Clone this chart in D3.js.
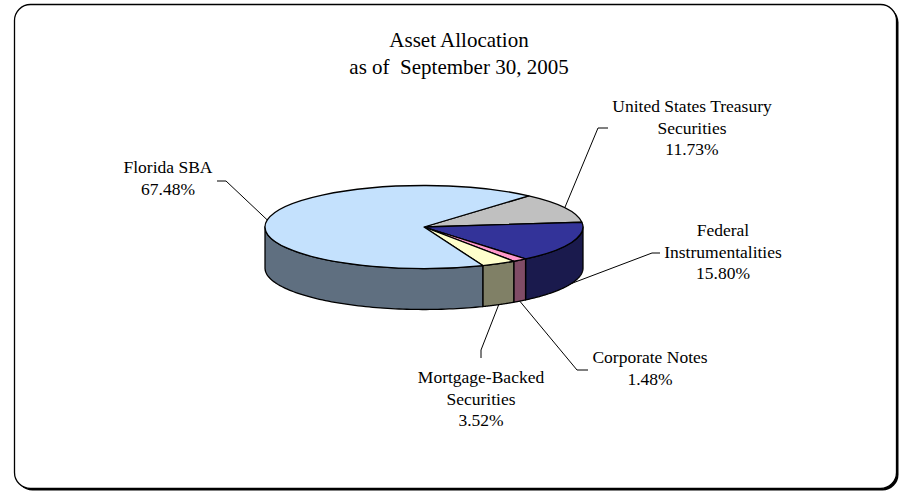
<!DOCTYPE html>
<html>
<head>
<meta charset="utf-8">
<script src="https://cdn.jsdelivr.net/npm/d3@7"></script>
<style>
  body { margin: 0; background: #fff; }
  svg { display: block; }
  text { font-family: "Liberation Serif", "Times New Roman", serif; fill: #000; }
</style>
</head>
<body>
<div id="chart"></div>
<script>
// data, in drawing order (clockwise from the top-right edge of Florida SBA)
const categories = ['United States Treasury Securities', 'Federal Instrumentalities', 'Corporate Notes', 'Mortgage-Backed Securities', 'Florida SBA'];
const values = [11.73, 15.80, 1.48, 3.52, 67.48];
const labelLines = [['United States Treasury', 'Securities'], ['Federal', 'Instrumentalities'], ['Corporate Notes'], ['Mortgage-Backed', 'Securities'], ['Florida SBA']];
const topColors = ['#C0C0C0', '#333399', '#FF99CC', '#FFFFCC', '#C4E1FD'];
const sideColors = ['#606060', '#1A1A4D', '#804C66', '#808066', '#5F6F80'];
const titleLines = ['Asset Allocation', 'as of  September 30, 2005'];

// layout
const width = 905, height = 492;
const cx = 424, cy = 227, rx = 159, ry = 41.5, depth = 41;
const startAngle = 41.2 * Math.PI / 180;
const labelPos = [
  { x: 692, y: 112, elbow: [[608, 128], [598, 128]] },
  { x: 723, y: 236, elbow: [[660, 253], [652, 253]] },
  { x: 650, y: 363, elbow: [[588, 370], [577, 370]] },
  { x: 481, y: 383, elbow: [[481, 358], [481, 350]] },
  { x: 168, y: 173, elbow: [[217, 181], [226, 181]] },
];

const svg = d3.select('#chart').append('svg')
  .attr('width', width)
  .attr('height', height);

// frame with a small drop shadow
svg.append('rect')
  .attr('x', 16.5).attr('y', 6.5)
  .attr('width', 882).attr('height', 484)
  .attr('rx', 16)
  .attr('fill', '#000');
svg.append('rect')
  .attr('x', 14.5).attr('y', 4.5)
  .attr('width', 882).attr('height', 484)
  .attr('rx', 16)
  .attr('fill', '#fff')
  .attr('stroke', '#000')
  .attr('stroke-width', 1.3);

// title
svg.append('text')
  .attr('text-anchor', 'middle')
  .style('font-size', '21px')
  .style('white-space', 'pre')
  .selectAll('tspan')
  .data(titleLines)
  .enter()
  .append('tspan')
  .attr('x', 459)
  .attr('y', (d, i) => 47 + i * 27)
  .text(d => d);

const pie = d3.pie()
  .value(d => d)
  .sort(null)
  .startAngle(startAngle)
  .endAngle(startAngle + 2 * Math.PI);

const arcs = pie(values);

const pt = (a, dy = 0) => [cx + rx * Math.sin(a), cy - ry * Math.cos(a) + dy];

// outer walls, only the front half (pi/2 .. 3pi/2) shows
const line = d3.line();
const walls = svg.append('g');
arcs.forEach((d, i) => {
  const lo = Math.max(d.startAngle, Math.PI / 2);
  const hi = Math.min(d.endAngle, 3 * Math.PI / 2);
  if (lo >= hi) return;
  const n = 80;
  const topPts = d3.range(n + 1).map(k => pt(lo + (hi - lo) * k / n));
  const botPts = topPts.map(p => [p[0], p[1] + depth]).reverse();
  walls.append('path')
    .attr('d', line(topPts.concat(botPts)) + 'Z')
    .attr('fill', sideColors[i])
    .attr('stroke', '#000')
    .attr('stroke-width', 1.3)
    .attr('stroke-linejoin', 'round');
});

// top face: a unit arc squashed into the ellipse
const arc = d3.arc().innerRadius(0).outerRadius(1);
svg.append('g')
  .attr('transform', `translate(${cx},${cy}) scale(${rx},${ry})`)
  .selectAll('path')
  .data(arcs)
  .enter()
  .append('path')
  .attr('d', arc)
  .attr('fill', (d, i) => topColors[i])
  .attr('stroke', '#000')
  .attr('stroke-width', 1.3)
  .attr('vector-effect', 'non-scaling-stroke')
  .attr('stroke-linejoin', 'round');

// leader lines
arcs.forEach((d, i) => {
  const mid = (d.startAngle + d.endAngle) / 2;
  const front = Math.cos(mid) < 0;
  const anchor = pt(mid, front ? depth : 0);
  svg.append('path')
    .attr('d', line(labelPos[i].elbow.concat([anchor])))
    .attr('fill', 'none')
    .attr('stroke', '#000')
    .attr('stroke-width', 1);
});

// labels
arcs.forEach((d, i) => {
  const lines = labelLines[i].concat([d3.format('.2f')(values[i]) + '%']);
  svg.append('text')
    .attr('text-anchor', 'middle')
    .style('font-size', '17.5px')
    .selectAll('tspan')
    .data(lines)
    .enter()
    .append('tspan')
    .attr('x', labelPos[i].x)
    .attr('y', (t, j) => labelPos[i].y + j * 21.5)
    .text(t => t);
});
</script>
</body>
</html>
